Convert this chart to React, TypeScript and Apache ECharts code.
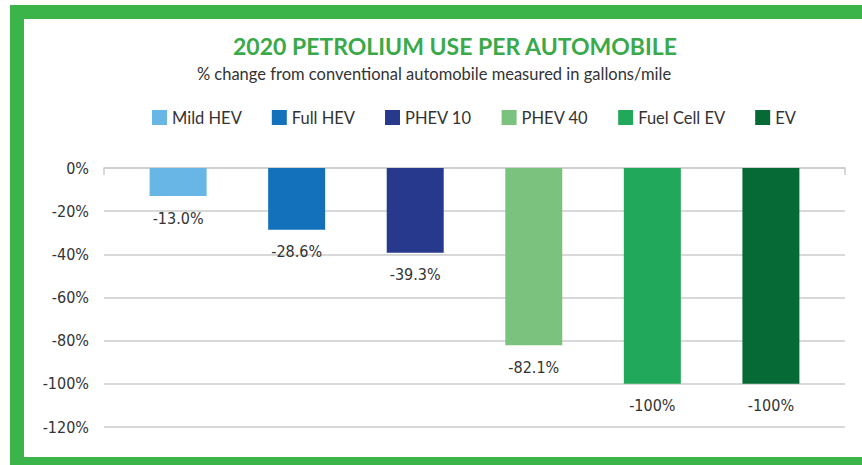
import React, { useEffect, useRef } from "react";
import * as echarts from "echarts";

const seriesNames = ["Mild HEV", "Full HEV", "PHEV 10", "PHEV 40", "Fuel Cell EV", "EV"];
const seriesValues = [-13.0, -28.6, -39.3, -82.1, -100, -100];
const seriesLabels = ["-13.0%", "-28.6%", "-39.3%", "-82.1%", "-100%", "-100%"];
const seriesColors = ["#67b6e6", "#1371bb", "#26398c", "#7cc27f", "#22a85a", "#066a37"];
const categories = [""];

const TITLE = "2020 PETROLIUM USE PER AUTOMOBILE";
const SUBTITLE = "% change from conventional automobile measured in gallons/mile";
const condensed = "'Liberation Sans Narrow', 'DejaVu Sans Condensed', 'Roboto Condensed', sans-serif";

export default function App() {
  const ref = useRef<HTMLDivElement>(null);
  useEffect(() => {
    if (!ref.current) return;
    const chart = echarts.init(ref.current, null, { renderer: "svg" });
    const green = "#3bb44a";
    chart.setOption({
      animation: false,
      backgroundColor: "#ffffff",
      title: [
        {
          text: TITLE,
          left: 450,
          textAlign: "center",
          top: 29,
          textStyle: { fontFamily: "Lato", fontWeight: "bold", fontSize: 23, color: "#3aa94a" },
        },
        {
          text: SUBTITLE,
          left: 429,
          textAlign: "center",
          top: 60,
          textStyle: { fontFamily: "Lato", fontWeight: "normal", fontSize: 16.5, color: "#333333" },
        },
      ],
      legend: {
        top: 104,
        left: 147,
        icon: "rect",
        itemWidth: 15,
        itemHeight: 15,
        itemGap: 30,
        textStyle: { fontFamily: "Lato", fontSize: 16.5, color: "#333333" },
        data: seriesNames,
      },
      graphic: [
        { type: "rect", shape: { x: 10, y: 5, width: 852, height: 14 }, style: { fill: green }, z: 100 },
        { type: "rect", shape: { x: 10, y: 5, width: 14, height: 460 }, style: { fill: green }, z: 100 },
        { type: "rect", shape: { x: 10, y: 457, width: 852, height: 8 }, style: { fill: green }, z: 100 },
      ],
      grid: { left: 104, right: 17, top: 168, bottom: 38 },
      xAxis: {
        type: "category",
        data: categories,
        axisLine: { show: true, lineStyle: { color: "#cccccc", width: 1.5 } },
        axisTick: { show: true, length: 7, lineStyle: { color: "#cccccc", width: 1.5 } },
        axisLabel: { show: false },
      },
      yAxis: {
        type: "value",
        min: -120,
        max: 0,
        interval: 20,
        axisLine: { show: false },
        axisTick: { show: false },
        axisLabel: {
          formatter: "{value}%",
          fontFamily: condensed,
          fontSize: 16,
          color: "#333333",
          margin: 15,
        },
        splitLine: { lineStyle: { color: "#cccccc", width: 1.5 } },
      },
      series: seriesNames.map((name, i) => ({
        name,
        type: "bar",
        barWidth: 57,
        barGap: "108%",
        itemStyle: { color: seriesColors[i] },
        label: {
          show: true,
          position: "bottom",
          distance: 14,
          formatter: () => seriesLabels[i],
          fontFamily: condensed,
          fontSize: 16,
          color: "#333333",
        },
        data: [seriesValues[i]],
      })),
    });
    return () => chart.dispose();
  }, []);
  return <div ref={ref} style={{ position: "fixed", left: 0, top: 0, width: 862, height: 465 }} />;
}
